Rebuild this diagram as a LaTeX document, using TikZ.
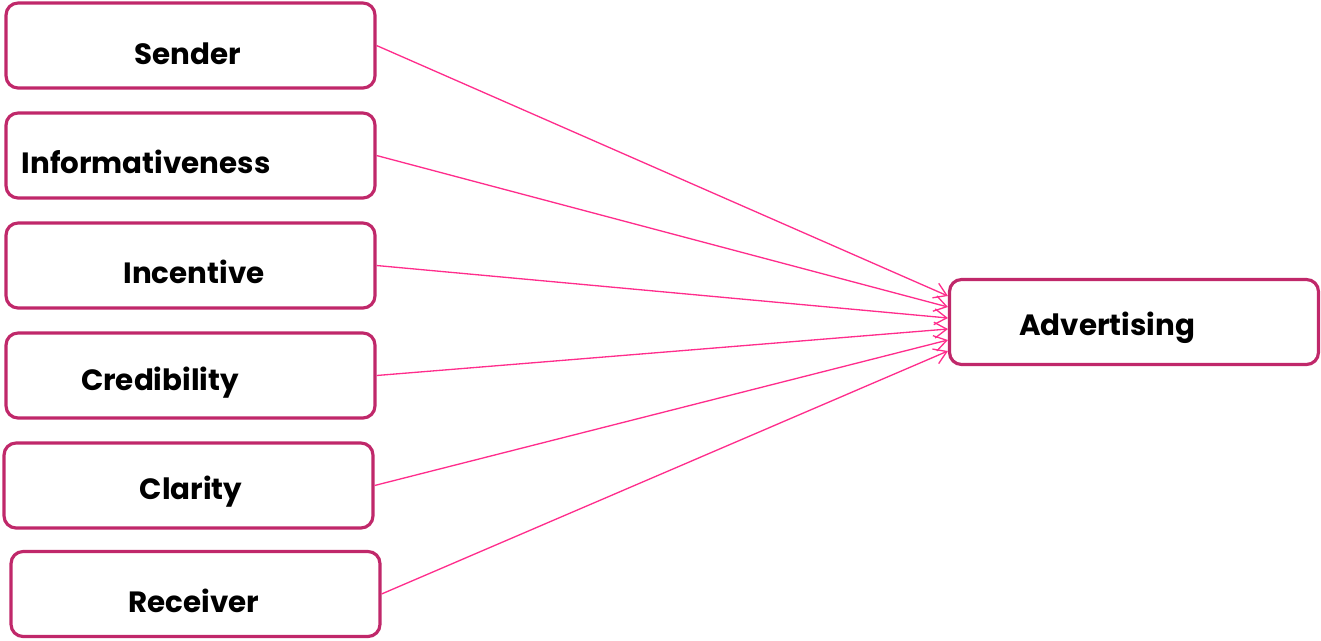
\documentclass[tikz,border=0pt]{standalone}
\usepackage{fontspec}
\setmainfont{Poppins}
\usetikzlibrary{arrows.meta}
\begin{document}
\begin{tikzpicture}[x=0.02cm,y=-0.02cm,
  box/.style={draw=boxc,line width=1.8pt,rounded corners=0.24cm,minimum width=7.38cm,minimum height=1.7cm,inner sep=0pt},
  lbl/.style={font=\fontsize{16.7}{19}\selectfont\bfseries,inner sep=0pt,anchor=center},
  link/.style={draw=linkc,line width=0.75pt,-{Straight Barb[length=7pt,width=9pt,line width=0.75pt]}}]
\definecolor{boxc}{HTML}{C0286A}
\definecolor{linkc}{HTML}{FF2D8C}
\useasboundingbox (0,0) rectangle (1321,640);
\node[box] (b1) at (190.5,45.5) {};
\node[box] (b2) at (190.5,155.5) {};
\node[box] (b3) at (190.5,265.5) {};
\node[box] (b4) at (190.5,375.5) {};
\node[box] (b5) at (188.5,485.5) {};
\node[box] (b6) at (195.5,594) {};
\node[box] (adv) at (1134,322) {};
\node[lbl] (t1) at (188,54) {Sender};
\node[lbl] (t2) at (146,162) {Informativeness};
\node[lbl] (t3) at (194,272) {Incentive};
\node[lbl] (t4) at (160,383) {Credibility};
\node[lbl] (t5) at (191,492) {Clarity};
\node[lbl] (t6) at (194,601) {Receiver};
\node[lbl] (ta) at (1107,328) {Advertising};
\draw[link] (b1.east) -- ([yshift=0.52cm]adv.west);
\draw[link] (b2.east) -- ([yshift=0.30cm]adv.west);
\draw[link] (b3.east) -- ([yshift=0.08cm]adv.west);
\draw[link] (b4.east) -- ([yshift=-0.14cm]adv.west);
\draw[link] (b5.east) -- ([yshift=-0.36cm]adv.west);
\draw[link] (b6.east) -- ([yshift=-0.58cm]adv.west);
\end{tikzpicture}
\end{document}
